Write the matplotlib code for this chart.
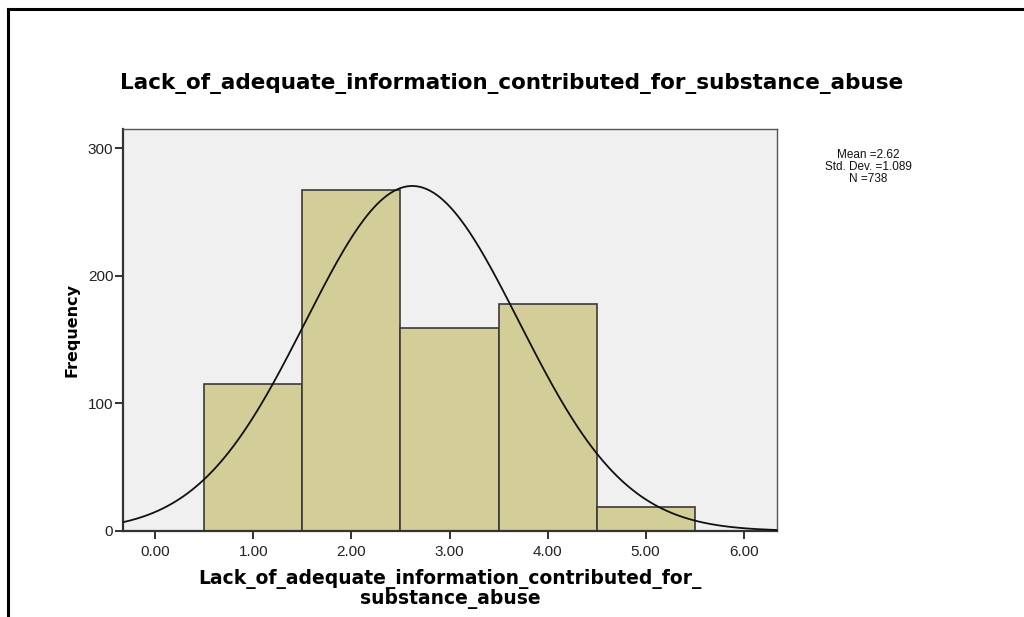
"""SPSS-style histogram with fitted normal curve."""
import numpy as np
import matplotlib
matplotlib.use('Agg')
import matplotlib.pyplot as plt

# Data.
bin_centers = [1, 2, 3, 4, 5]
counts = [115, 267, 159, 178, 19]
mean_val = 2.62
std_val = 1.089
n_total = 738

x_ticks = [0, 1, 2, 3, 4, 5, 6]
x_tick_labels = ['0.00', '1.00', '2.00', '3.00', '4.00', '5.00', '6.00']
y_ticks = [0, 100, 200, 300]

title = 'Lack_of_adequate_information_contributed_for_substance_abuse'
xlabel = 'Lack_of_adequate_information_contributed_for_\nsubstance_abuse'

plt.rcParams['font.family'] = ['Liberation Sans', 'DejaVu Sans']

fig = plt.figure(figsize=(10.24, 6.17), dpi=100)
fig.patch.set_facecolor('white')

# outer frame (top and left edges only visible)
fig.add_artist(plt.Line2D([8 / 1024, 1], [1 - 9 / 617, 1 - 9 / 617],
                          transform=fig.transFigure, color='black', lw=2.2))
fig.add_artist(plt.Line2D([8 / 1024, 8 / 1024], [0, 1 - 9 / 617],
                          transform=fig.transFigure, color='black', lw=2.2))

ax = fig.add_axes([123 / 1024, 86 / 617, 654 / 1024, 402 / 617])
ax.set_facecolor('#f0f0f0')

ax.bar(bin_centers, counts, width=1.0, color='#d3ce97',
       edgecolor='#3a3a3a', linewidth=1.2, zorder=2)

xs = np.linspace(-0.4, 6.4, 400)
pdf = n_total * 1.0 / (std_val * np.sqrt(2 * np.pi)) * \
    np.exp(-0.5 * ((xs - mean_val) / std_val) ** 2)
ax.plot(xs, pdf, color='#111111', lw=1.3, zorder=3)

ax.set_xlim(-0.33, 6.34)
ax.set_ylim(0, 315)
ax.set_xticks(x_ticks)
ax.set_xticklabels(x_tick_labels)
ax.set_yticks(y_ticks)
ax.tick_params(axis='both', labelsize=11, colors='#222222',
               length=6, width=1.3)
ax.tick_params(axis='y', pad=1)
ax.tick_params(axis='x', pad=4)

for s in ('left', 'bottom'):
    ax.spines[s].set_color('#333333')
    ax.spines[s].set_linewidth(1.6)
for s in ('top', 'right'):
    ax.spines[s].set_color('#555555')
    ax.spines[s].set_linewidth(1.0)

ax.set_ylabel('Frequency', fontsize=11.5, fontweight='bold',
              family='DejaVu Sans', labelpad=6)
ax.set_xlabel(xlabel, fontsize=13.5, fontweight='bold',
              family='DejaVu Sans', linespacing=1.0, labelpad=7)

fig.text(512 / 1024, 1 - 83 / 617, title, ha='center', va='center',
         fontsize=15.5, fontweight='bold', family='DejaVu Sans')

fig.text(868 / 1024, 1 - 167 / 617,
         f'Mean ={mean_val:.2f}\nStd. Dev. ={std_val:.3f}\nN ={n_total}',
         ha='center', va='center', fontsize=8.5, linespacing=0.95,
         color='#111111')

plt.savefig('out.png', dpi=100)
